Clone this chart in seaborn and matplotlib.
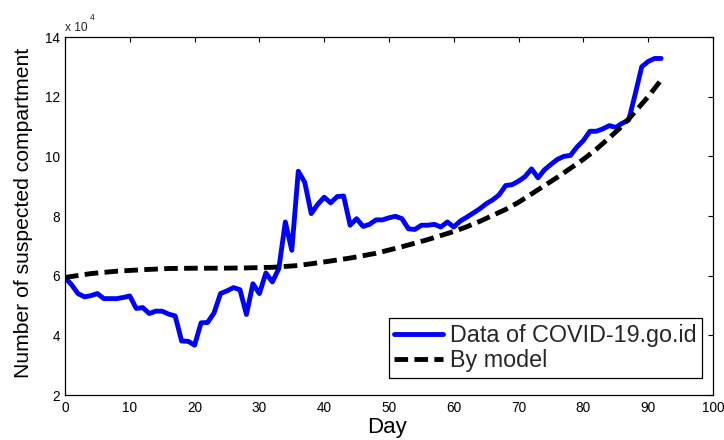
import numpy as np
import pandas as pd
import matplotlib
matplotlib.use("Agg")
import matplotlib.pyplot as plt
import seaborn as sns

# ---- data (values in units of 10^4) ----
days = list(range(0, 93))
observed = [5.94, 5.70, 5.40, 5.29, 5.33, 5.40, 5.23, 5.23, 5.23, 5.27,
            5.32, 4.90, 4.93, 4.73, 4.81, 4.81, 4.71, 4.65, 3.81, 3.80,
            3.67, 4.42, 4.43, 4.75, 5.40, 5.49, 5.60, 5.53, 4.70, 5.73,
            5.40, 6.09, 5.79, 6.24, 7.80, 6.85, 9.50, 9.13, 8.08, 8.39,
            8.63, 8.44, 8.65, 8.67, 7.69, 7.91, 7.65, 7.72, 7.87, 7.87,
            7.94, 7.99, 7.91, 7.57, 7.55, 7.69, 7.69, 7.72, 7.63, 7.80,
            7.63, 7.83, 7.96, 8.10, 8.24, 8.41, 8.54, 8.71, 9.02, 9.05,
            9.17, 9.32, 9.58, 9.28, 9.55, 9.73, 9.90, 10.00, 10.03, 10.31,
            10.53, 10.84, 10.84, 10.92, 11.03, 10.97, 11.11, 11.22, 12.09, 13.00,
            13.18, 13.28, 13.28]
model_days = [0, 4, 8, 12, 16, 20, 24, 28, 32, 36, 40, 44, 48, 52, 56, 60,
              62, 64, 66, 68, 70, 72, 74, 76, 78, 80, 82, 84, 86, 88, 90, 92]
model = [5.94, 6.07, 6.15, 6.20, 6.24, 6.25, 6.25, 6.26, 6.28, 6.34, 6.46, 6.59,
         6.75, 6.97, 7.21, 7.48, 7.64, 7.82, 8.02, 8.22, 8.46, 8.74, 9.02, 9.30,
         9.60, 9.90, 10.24, 10.62, 11.02, 11.50, 12.00, 12.56]

xticks = list(range(0, 101, 10))
yticks = list(range(2, 15, 2))
label_obs = "Data of COVID-19.go.id"
label_model = "By model"

sns.set_theme(style="white")
plt.rcParams['font.family'] = ['Liberation Sans', 'DejaVu Sans']

W, H = 724, 440
fig = plt.figure(figsize=(W / 100, H / 100), dpi=100)
ax = fig.add_axes([65 / W, 1 - 395 / H, 648 / W, 358 / H])

df_obs = pd.DataFrame({"day": days, "val": observed})
df_mod = pd.DataFrame({"day": model_days, "val": model})

sns.lineplot(data=df_obs, x="day", y="val", ax=ax, color="#0000ff",
             linewidth=3.5, label=label_obs)
sns.lineplot(data=df_mod, x="day", y="val", ax=ax, color="black",
             linewidth=3.5, label=label_model)
ax.lines[1].set_dashes((2.8, 1.3))

ax.set_xlim(0, 100)
ax.set_ylim(2, 14)
ax.set_xticks(xticks)
ax.set_yticks(yticks)
ax.tick_params(axis="both", which="both", direction="in", length=3.5, width=0.8,
               top=True, right=True, labelsize=9.8, colors="black")
ax.tick_params(axis="x", pad=4.5)
ax.tick_params(axis="y", pad=3.5)
for s in ax.spines.values():
    s.set_visible(True)
    s.set_color("black")
    s.set_linewidth(0.9)

ax.set_xlabel("Day", fontsize=16, color="black")
ax.set_ylabel("Number of suspected compartment", fontsize=15.2, color="black")
ax.xaxis.set_label_coords(0.497, -0.062)
ax.yaxis.set_label_coords(-0.05, 0.508)

fig.text(65 / W, 1 - 31 / H, "x 10", fontsize=8.6, ha="left", va="baseline")
fig.text(90 / W, 1 - 19.5 / H, "4", fontsize=6.2, ha="left", va="baseline")

leg = ax.legend(loc="lower right", bbox_to_anchor=(0.983, 0.0475), borderaxespad=0,
                fontsize=16.8, frameon=True, fancybox=False, framealpha=1,
                edgecolor="black", handlelength=2.1, handletextpad=0.26,
                borderpad=0.25, labelspacing=0.1)
leg.get_frame().set_linewidth(0.9)

fig.savefig("out.png", dpi=100)
